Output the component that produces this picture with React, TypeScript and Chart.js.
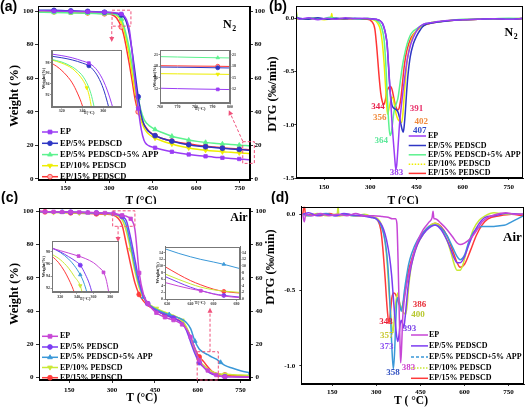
import React, { useEffect, useRef } from "react";
import { Chart, registerables } from "chart.js";
Chart.register(...registerables);

const SERIF = '"Liberation Serif", "Times New Roman", serif';
const SANS = '"Liberation Sans", Arial, sans-serif';

const seriesNames = ["EP", "EP/5% PEDSCD", "EP/5% PEDSCD+5% APP", "EP/10% PEDSCD", "EP/15% PEDSCD"];
const tempTicks = [150, 300, 450, 600, 750];

// ---------- (a) TGA, N2 ----------
const tgaN2Temp = [55, 110, 168, 226, 284, 310, 325, 342, 350, 360, 370, 380, 390, 400, 410, 420, 430, 440, 458, 480, 516, 545, 574, 603, 632, 661, 690, 719, 748, 770, 785];
const tgaN2EP = [100.2, 100.0, 99.8, 99.6, 99.3, 99.1, 98.9, 98.3, 97.4, 94.8, 88.5, 74, 57, 42, 30, 23, 20.5, 19.5, 18.6, 17.6, 16.2, 15.3, 14.6, 14.0, 13.5, 13.0, 12.6, 12.2, 11.9, 11.6, 11.4];
const tgaN2P5 = [100.5, 100.4, 100.1, 99.8, 99.3, 99.0, 98.6, 97.6, 96.6, 93.2, 86, 75, 62, 49, 38.5, 32.5, 29.5, 27.8, 25.8, 24.3, 22.5, 21.3, 20.4, 19.7, 19.2, 18.7, 18.3, 17.9, 17.6, 17.3, 17.1];
const tgaN2APP = [99.3, 99.1, 98.9, 98.7, 98.4, 98.3, 97.7, 95.3, 91.5, 85, 77, 67, 57, 48, 40.5, 35.5, 33, 31.5, 29.5, 27.8, 25.5, 24.2, 23.2, 22.4, 21.8, 21.3, 20.9, 20.5, 20.2, 19.9, 19.7];
const tgaN2P10 = [99.6, 99.4, 99.2, 99.0, 98.7, 98.4, 97.5, 94, 89.5, 82, 73, 62, 51, 42, 35, 30.5, 27.8, 26.2, 24.3, 22.8, 20.8, 19.5, 18.5, 17.7, 17.1, 16.6, 16.2, 15.9, 15.6, 15.3, 15.2];
const tgaN2P15 = [100.0, 99.6, 99.3, 98.9, 98.4, 97.8, 96.0, 90.5, 86, 77.5, 68, 57.5, 47, 40, 35.5, 32.5, 30, 28, 25.8, 24.3, 22.6, 21.6, 20.8, 20.1, 19.5, 19.0, 18.5, 18.1, 17.8, 17.5, 17.3];
const tgaN2Marks = [110, 168, 226, 284, 342, 400, 458, 516, 574, 632, 690, 748];
const tgaN2Ticks = [0, 20, 40, 60, 80, 100];

// inset (a) left: 310-377 C
const inN2LowEPT = [310, 320, 330, 340, 346, 350, 355, 360, 364, 368, 372];
const inN2LowEPV = [99.6, 99.3, 98.9, 98.3, 97.9, 97.4, 96.3, 94.6, 92.7, 90.3, 87.5];
const inN2LowP5T = [310, 320, 330, 340, 346, 350, 355, 360, 364, 368];
const inN2LowP5V = [99.2, 98.9, 98.5, 97.9, 97.4, 96.7, 95.3, 93.1, 90.5, 87.5];
const inN2LowAPPT = [310, 320, 330, 335, 340, 345, 348, 351, 354];
const inN2LowAPPV = [98.6, 98.1, 97.2, 96.5, 95.5, 93.8, 92.2, 89.8, 87];
const inN2LowP10T = [310, 320, 330, 335, 340, 344, 346, 348, 350];
const inN2LowP10V = [98.5, 97.9, 96.9, 96.0, 94.8, 93.3, 92.1, 90.2, 87.5];
const inN2LowP15T = [310, 315, 320, 325, 330, 335, 340, 343];
const inN2LowP15V = [97.9, 97.3, 96.5, 95.5, 94.2, 92.3, 89.8, 87.5];

// inset (a) right: 760-800 C
const inN2HighT = [760, 770, 780, 793, 800];
const inN2HighEP = [12.2, 12.1, 12.0, 11.9, 11.85];
const inN2HighP5 = [17.8, 17.75, 17.7, 17.6, 17.55];
const inN2HighAPP = [20.55, 20.45, 20.35, 20.25, 20.2];
const inN2HighP10 = [16.05, 16.0, 15.95, 15.9, 15.85];
const inN2HighP15 = [18.15, 18.1, 18.05, 18.0, 17.95];

// ---------- (b) DTG, N2 ----------
const dtgN2EPT = [57, 70, 100, 130, 160, 190, 220, 250, 280, 300, 320, 330, 340, 345, 350, 355, 360, 365, 370, 375, 380, 383, 386, 390, 395, 400, 405, 410, 415, 420, 430, 440, 450, 460, 470, 480, 500, 520, 550, 600, 650, 700, 750, 800];
const dtgN2EPV = [0.02, -0.01, 0.005, -0.015, 0.0, -0.01, 0.005, -0.005, 0.0, -0.005, -0.01, -0.02, -0.05, -0.09, -0.15, -0.25, -0.46, -0.7, -0.95, -1.15, -1.33, -1.42, -1.38, -1.22, -1.0, -0.85, -0.72, -0.6, -0.49, -0.39, -0.26, -0.18, -0.12, -0.08, -0.06, -0.05, -0.04, -0.03, -0.02, -0.015, -0.01, -0.005, -0.01, 0.0];
const dtgN2P5T = [57, 70, 100, 130, 160, 190, 220, 250, 280, 300, 320, 330, 340, 345, 350, 355, 360, 365, 370, 375, 380, 385, 390, 395, 400, 404, 407, 410, 414, 418, 422, 430, 440, 450, 460, 470, 480, 500, 520, 550, 600, 650, 700, 750, 800];
const dtgN2P5V = [0.01, 0.0, -0.01, 0.005, -0.01, 0.0, -0.005, 0.0, -0.005, -0.005, -0.01, -0.02, -0.05, -0.09, -0.15, -0.25, -0.48, -0.7, -0.81, -0.84, -0.85, -0.86, -0.88, -0.93, -1.0, -1.05, -1.07, -1.02, -0.88, -0.7, -0.55, -0.36, -0.24, -0.17, -0.12, -0.08, -0.06, -0.045, -0.035, -0.025, -0.015, -0.01, -0.005, -0.01, 0.0];
const dtgN2APPT = [57, 60, 63, 80, 110, 140, 170, 200, 230, 260, 290, 310, 325, 335, 340, 345, 350, 355, 360, 364, 368, 372, 376, 380, 385, 390, 395, 400, 405, 410, 420, 430, 440, 450, 460, 480, 500, 530, 560, 600, 650, 700, 750, 800];
const dtgN2APPV = [0.0, 0.05, 0.0, -0.01, 0.005, -0.01, 0.01, -0.005, 0.0, -0.01, 0.0, -0.01, -0.03, -0.07, -0.12, -0.2, -0.4, -0.7, -0.98, -1.1, -1.08, -1.0, -0.9, -0.84, -0.8, -0.75, -0.65, -0.54, -0.44, -0.36, -0.24, -0.16, -0.12, -0.1, -0.08, -0.05, -0.04, -0.03, -0.02, -0.01, -0.01, -0.005, 0.0, -0.005];
const dtgN2P10T = [57, 60, 63, 90, 120, 150, 172, 175, 178, 200, 230, 260, 290, 310, 320, 330, 335, 340, 345, 350, 356, 360, 365, 370, 375, 380, 385, 390, 396, 402, 406, 410, 415, 420, 430, 440, 450, 460, 480, 500, 530, 560, 600, 650, 700, 750, 800];
const dtgN2P10V = [0.0, 0.07, -0.01, -0.01, 0.0, -0.015, 0.0, 0.045, -0.01, -0.005, 0.0, -0.01, -0.005, -0.015, -0.03, -0.08, -0.14, -0.25, -0.42, -0.65, -0.9, -0.86, -0.79, -0.74, -0.76, -0.84, -0.91, -0.95, -0.97, -0.98, -0.9, -0.74, -0.55, -0.4, -0.24, -0.16, -0.12, -0.09, -0.06, -0.04, -0.03, -0.02, -0.015, -0.01, -0.005, -0.005, 0.0];
const dtgN2P15T = [57, 80, 110, 140, 170, 200, 230, 260, 290, 305, 315, 322, 328, 334, 339, 344, 349, 354, 360, 366, 371, 376, 381, 386, 391, 395, 400, 405, 410, 415, 420, 430, 440, 450, 460, 480, 500, 530, 560, 600, 650, 700, 750, 800];
const dtgN2P15V = [0.0, -0.01, 0.0, -0.01, -0.005, -0.01, -0.005, -0.01, -0.01, -0.03, -0.1, -0.3, -0.52, -0.7, -0.78, -0.81, -0.77, -0.69, -0.65, -0.64, -0.67, -0.74, -0.81, -0.85, -0.86, -0.83, -0.74, -0.6, -0.46, -0.36, -0.29, -0.2, -0.15, -0.12, -0.09, -0.06, -0.045, -0.03, -0.02, -0.015, -0.01, -0.005, -0.01, -0.005];
const dtgN2Ticks = [0, -0.5, -1.0, -1.5];
const dtgN2PeakText = ["344", "356", "364", "383", "391", "402", "407"];
const dtgN2PeakT = [325, 331, 336, 385, 450, 466, 461];
const dtgN2PeakV = [-0.83, -0.93, -1.145, -1.452, -0.853, -0.973, -1.06];
const dtgN2PeakColor = ["#e8204a", "#f08a3c", "#5de89a", "#9b3cf0", "#e8306a", "#f08a3c", "#2f48c8"];

// ---------- (c) TGA, Air ----------
const tgaAirTemp = [45, 65, 95, 125, 155, 185, 215, 245, 275, 305, 320, 335, 350, 365, 380, 395, 410, 425, 440, 455, 470, 485, 500, 515, 530, 545, 560, 575, 590, 605, 620, 635, 650, 665, 680, 695, 720, 750, 785];
const tgaAirEP = [100, 99.8, 99.7, 99.6, 99.5, 99.4, 99.3, 99.2, 99.0, 98.7, 98.3, 97.6, 97.0, 95.5, 89, 63, 50, 44.5, 41.5, 39, 37.5, 36.3, 35.4, 34.6, 33.6, 32, 29.3, 24.5, 17.5, 10.5, 6.5, 4.3, 2.8, 1.6, 0.9, 0.6, 0.5, 0.4, 0.3];
const tgaAirP5 = [100, 99.8, 99.7, 99.6, 99.5, 99.4, 99.3, 99.1, 98.9, 98.5, 97.9, 96.9, 94.3, 84, 71, 58, 49, 44.5, 42, 40.3, 39, 37.8, 36.8, 35.8, 34.6, 32.8, 28.5, 21.5, 14.5, 9, 6.5, 3.8, 2.2, 1.3, 0.8, 0.6, 0.5, 0.4, 0.3];
const tgaAirAPP = [99.8, 99.7, 99.6, 99.5, 99.4, 99.3, 99.2, 99.1, 98.9, 98.6, 97.9, 96.3, 91.5, 80, 67, 56, 48.5, 44.5, 42.5, 41, 39.8, 38.8, 37.9, 37.0, 36.1, 35.0, 33.2, 29.5, 22, 17.2, 15.2, 13.8, 12.4, 11.1, 9.2, 7.4, 5.8, 4.2, 2.8];
const tgaAirP10 = [99.5, 99.4, 99.3, 99.2, 99.1, 99.0, 98.9, 98.8, 98.6, 98.2, 97.2, 95.0, 88, 77, 64, 54, 48, 44.8, 43, 41.6, 40.4, 39.4, 38.5, 37.5, 36.3, 34.5, 30.5, 24, 16, 10.3, 7.6, 5.3, 3.6, 2.7, 2.2, 2.0, 1.8, 1.6, 1.5];
const tgaAirP15 = [100, 99.7, 99.5, 99.3, 99.1, 98.9, 98.7, 98.5, 98.3, 97.6, 96.0, 91.8, 80, 68, 57, 50, 46, 43.5, 41.8, 40.3, 39, 37.9, 36.9, 35.9, 34.8, 33.2, 30, 24.5, 17.5, 12.5, 9.8, 6.5, 3.8, 2.5, 1.9, 1.6, 1.3, 1.1, 1.0];
const tgaAirMarksEP = [65, 95, 125, 155, 185, 215, 245, 275, 305, 335, 365, 395, 425, 455, 485, 515, 545, 575, 605, 635, 665, 695];
const tgaAirMarksP5 = [155, 245, 335, 425, 515, 605, 695];
const tgaAirMarksAPP = [125, 215, 305, 410, 500, 590, 680, 785];
const tgaAirMarksP10 = [95, 185, 275, 365, 455, 545, 605, 695];
const tgaAirMarksP15 = [65, 155, 245, 395, 485, 605, 695];

// inset (c) left: 310-390 C
const inAirLowEPT = [310, 320, 330, 342, 350, 360, 366, 372, 375, 378, 381];
const inAirLowEPV = [98.6, 98.2, 97.8, 97.3, 96.9, 96.2, 95.5, 94.6, 93.5, 91.5, 89];
const inAirLowP5T = [310, 320, 330, 338, 344, 350, 355, 358, 361];
const inAirLowP5V = [98.6, 98.0, 97.2, 96.5, 95.8, 94.3, 92.7, 91.3, 89.5];
const inAirLowAPPT = [310, 320, 330, 337, 344, 348, 352, 355];
const inAirLowAPPV = [98.7, 97.9, 96.8, 95.7, 94.2, 93.0, 91.3, 89.8];
const inAirLowP10T = [310, 320, 330, 337, 344, 346, 349];
const inAirLowP10V = [97.6, 96.7, 95.3, 93.9, 92.4, 91.4, 89.5];
const inAirLowP15T = [310, 318, 325, 330, 334, 337, 340];
const inAirLowP15V = [97.3, 96.2, 94.8, 93.5, 92.3, 91.2, 89.8];

// inset (c) right: 618-683 C
const inAirHighT = [618, 630, 640, 649, 660, 669, 683];
const inAirHighEP = [5.0, 3.9, 3.1, 2.5, 1.5, 0.9, 0.4];
const inAirHighP5 = [6.8, 5.0, 3.6, 2.6, 1.6, 1.1, 0.6];
const inAirHighAPP = [15.2, 13.8, 12.8, 12.0, 11.2, 10.5, 9.2];
const inAirHighP10 = [7.6, 5.9, 4.6, 3.6, 2.8, 2.4, 2.0];
const inAirHighP15 = [9.8, 7.4, 5.6, 4.3, 3.0, 2.3, 1.8];

// ---------- (d) DTG, Air ----------
const dtgAirEPT = [50, 55, 60, 80, 110, 140, 170, 200, 230, 260, 290, 320, 340, 355, 365, 370, 374, 378, 381, 383, 386, 390, 395, 400, 410, 420, 430, 440, 460, 480, 490, 493, 496, 500, 520, 540, 560, 575, 585, 600, 620, 640, 660, 680, 700, 740, 770, 800];
const dtgAirEPV = [0.0, -0.05, 0.0, -0.01, 0.005, -0.01, 0.0, -0.01, 0.005, -0.01, -0.01, -0.015, -0.02, -0.03, -0.03, -0.06, -0.3, -0.65, -0.88, -0.98, -0.88, -0.68, -0.57, -0.5, -0.4, -0.31, -0.24, -0.18, -0.1, -0.05, -0.02, 0.02, -0.03, -0.03, -0.06, -0.1, -0.15, -0.19, -0.2, -0.19, -0.16, -0.11, -0.05, -0.02, -0.005, 0.01, 0.0, 0.0];
const dtgAirP5T = [50, 70, 100, 130, 160, 190, 220, 250, 280, 300, 315, 325, 335, 345, 352, 358, 364, 369, 373, 377, 381, 385, 389, 393, 397, 402, 408, 415, 425, 440, 460, 480, 500, 520, 540, 555, 565, 575, 585, 600, 615, 630, 650, 670, 700, 740, 800];
const dtgAirP5V = [0.0, 0.01, -0.01, 0.0, -0.01, 0.005, -0.005, -0.01, -0.02, -0.03, -0.06, -0.1, -0.17, -0.28, -0.4, -0.55, -0.7, -0.8, -0.84, -0.8, -0.73, -0.7, -0.72, -0.75, -0.7, -0.6, -0.48, -0.38, -0.29, -0.2, -0.13, -0.09, -0.07, -0.1, -0.17, -0.24, -0.29, -0.32, -0.32, -0.28, -0.2, -0.13, -0.06, -0.02, -0.01, 0.005, 0.0];
const dtgAirAPPT = [50, 70, 100, 130, 160, 190, 220, 250, 280, 300, 315, 325, 335, 342, 348, 353, 358, 362, 366, 370, 375, 380, 385, 390, 396, 402, 410, 420, 440, 460, 480, 500, 520, 540, 560, 575, 585, 600, 615, 630, 645, 660, 680, 700, 720, 740, 760, 780, 800];
const dtgAirAPPV = [0.0, -0.01, 0.0, 0.005, -0.01, 0.0, -0.01, -0.005, -0.02, -0.03, -0.07, -0.13, -0.25, -0.42, -0.65, -0.88, -1.02, -0.92, -0.72, -0.57, -0.55, -0.6, -0.64, -0.6, -0.5, -0.42, -0.33, -0.26, -0.17, -0.12, -0.08, -0.07, -0.09, -0.14, -0.22, -0.28, -0.3, -0.27, -0.18, -0.12, -0.09, -0.08, -0.08, -0.08, -0.075, -0.07, -0.05, -0.03, -0.01];
const dtgAirP10T = [50, 70, 100, 130, 160, 167, 170, 173, 200, 230, 260, 290, 305, 318, 328, 336, 343, 350, 357, 362, 368, 373, 378, 385, 393, 400, 405, 410, 420, 440, 460, 480, 500, 520, 540, 555, 565, 575, 585, 595, 610, 630, 650, 670, 700, 740, 800];
const dtgAirP10V = [0.0, -0.01, 0.005, -0.01, 0.0, 0.0, 0.05, -0.01, -0.005, -0.01, 0.0, -0.02, -0.03, -0.07, -0.15, -0.3, -0.5, -0.68, -0.78, -0.66, -0.56, -0.52, -0.57, -0.62, -0.65, -0.66, -0.6, -0.48, -0.33, -0.2, -0.13, -0.08, -0.06, -0.09, -0.17, -0.26, -0.33, -0.37, -0.37, -0.33, -0.22, -0.1, -0.04, -0.01, 0.01, 0.0, 0.0];
const dtgAirP15T = [50, 55, 60, 80, 110, 140, 170, 200, 230, 260, 290, 305, 315, 322, 330, 337, 343, 348, 353, 360, 366, 372, 379, 386, 392, 400, 410, 420, 440, 460, 480, 500, 520, 540, 560, 575, 585, 600, 620, 640, 660, 680, 720, 760, 800];
const dtgAirP15V = [0.0, 0.06, -0.01, 0.0, -0.01, 0.005, -0.01, 0.0, -0.01, -0.01, -0.02, -0.04, -0.1, -0.22, -0.42, -0.62, -0.72, -0.65, -0.55, -0.52, -0.53, -0.56, -0.6, -0.62, -0.58, -0.48, -0.37, -0.3, -0.19, -0.12, -0.08, -0.06, -0.08, -0.14, -0.24, -0.32, -0.35, -0.33, -0.24, -0.14, -0.07, -0.03, -0.01, 0.0, -0.01];
const dtgAirTicks = [0, -0.5, -1.0];
const dtgAirPeakText = ["343", "357", "373", "358", "383", "393", "400", "386"];
const dtgAirPeakT = [332.7, 336, 336, 356.5, 409.9, 413.3, 441.5, 447.3];
const dtgAirPeakV = [-0.706, -0.798, -0.871, -1.042, -1.009, -0.752, -0.664, -0.594];
const dtgAirPeakColor = ["#e8203a", "#c8c830", "#8a4cf0", "#3050c0", "#cc40cc", "#7a40e8", "#b8c830", "#e8303a"];

// zoom boxes [x1, x2, y1, y2] and arrows [x1, y1, x2, y2] in data units
const boxN2Low = [310, 375, 91, 100.5];
const arrowN2Low = [309, 91, 309, 81.5];
const boxN2High = [760, 800, 9.3, 22.2];
const arrowN2High = [760, 22.5, 712, 41];
const boxAirLow = [302, 380, 91, 100.3];
const arrowAirLow = [321, 91, 321, 81.5];
const boxAirHigh = [598, 672, -1.4, 15.6];
const arrowAirHigh = [643, 15.6, 643, 42];

const CN = { ep: "#9b3cf5", p5: "#2e36c4", app: "#5cf28e", p10: "#eeee00", p15: "#ff3434" };
const CA = { ep: "#c746d6", p5: "#7b3cf2", app: "#3a98d8", p10: "#c9e836", p15: "#ff3a3a" };
const PINK = "#f0507a";

type Spec = {
  left: number; top: number; w: number; h: number;
  box: { l: number; t: number; r: number; b: number };
  xMin: number; xMax: number; xTicks: number[];
  yMin: number; yMax: number; yTicks: number[];
  yFmt: (v: number) => string;
  right?: boolean;
  tickSize: number; tickLen: number; xPad: number; yPad: number;
  axisColor: string; tickColor: string;
  white?: boolean;
  datasets: any[];
  draw?: (ctx: CanvasRenderingContext2D, ch: any) => void;
};

function ds(T: number[], V: number[], color: string, o: any = {}) {
  const marks: number[] = o.marks || [];
  return {
    type: "line",
    xAxisID: "x",
    yAxisID: "y",
    data: T.map((t, i) => ({ x: t, y: V[i] })),
    borderColor: color,
    backgroundColor: o.fill || color,
    borderWidth: o.bw ?? 1.5,
    borderDash: o.dash || [],
    pointStyle: o.style || "circle",
    pointRotation: o.rot || 0,
    pointRadius: (c: any) => (c.raw && marks.indexOf(c.raw.x) >= 0 ? o.r ?? 2.4 : 0),
    pointHoverRadius: 0,
    pointBorderColor: color,
    pointBorderWidth: 0.8,
    cubicInterpolationMode: "monotone",
    fill: false,
  };
}

function txt(ctx: CanvasRenderingContext2D, s: string, x: number, y: number, font: string, color = "#000", align: CanvasTextAlign = "center", rot = 0) {
  ctx.save();
  ctx.font = font;
  ctx.fillStyle = color;
  ctx.textAlign = align;
  ctx.textBaseline = "middle";
  ctx.translate(x, y);
  if (rot) ctx.rotate(rot);
  ctx.fillText(s, 0, 0);
  ctx.restore();
}

function subN2(ctx: CanvasRenderingContext2D, x: number, y: number, size: number) {
  ctx.save();
  ctx.font = `bold ${size}px ${SERIF}`;
  ctx.fillStyle = "#000";
  ctx.textAlign = "left";
  ctx.textBaseline = "middle";
  ctx.fillText("N", x, y);
  const w = ctx.measureText("N").width;
  ctx.font = `bold ${size * 0.65}px ${SERIF}`;
  ctx.fillText("2", x + w + 0.5, y + size * 0.35);
  ctx.restore();
}

function drawMarker(ctx: CanvasRenderingContext2D, kind: string, x: number, y: number, r: number, stroke: string, fill: string) {
  ctx.save();
  ctx.fillStyle = fill;
  ctx.strokeStyle = stroke;
  ctx.lineWidth = 0.8;
  ctx.beginPath();
  if (kind === "rect") ctx.rect(x - r * 0.8, y - r * 0.8, r * 1.6, r * 1.6);
  else if (kind === "circle") ctx.arc(x, y, r, 0, Math.PI * 2);
  else if (kind === "triangle") { ctx.moveTo(x, y - r * 1.1); ctx.lineTo(x + r, y + r * 0.6); ctx.lineTo(x - r, y + r * 0.6); ctx.closePath(); }
  else if (kind === "tridown") { ctx.moveTo(x, y + r * 1.1); ctx.lineTo(x + r, y - r * 0.6); ctx.lineTo(x - r, y - r * 0.6); ctx.closePath(); }
  ctx.fill();
  ctx.stroke();
  ctx.restore();
}

type LegItem = { color: string; marker?: string; fill?: string; dash?: number[] };
function drawLegend(ctx: CanvasRenderingContext2D, items: LegItem[], x0: number, x1: number, tx: number, ys: number[], size: number) {
  items.forEach((e, i) => {
    const y = ys[i];
    ctx.save();
    ctx.strokeStyle = e.color;
    ctx.lineWidth = 1.5;
    ctx.setLineDash(e.dash || []);
    ctx.beginPath();
    ctx.moveTo(x0, y);
    ctx.lineTo(x1, y);
    ctx.stroke();
    ctx.restore();
    if (e.marker) drawMarker(ctx, e.marker, (x0 + x1) / 2, y, 2.4, e.color, e.fill || e.color);
    txt(ctx, seriesNames[i], tx, y, `bold ${size}px ${SERIF}`, "#000", "left");
  });
}

function dashRect(ctx: CanvasRenderingContext2D, x1: number, y1: number, x2: number, y2: number, color: string) {
  ctx.save();
  ctx.strokeStyle = color;
  ctx.lineWidth = 1;
  ctx.setLineDash([3, 2]);
  ctx.strokeRect(Math.min(x1, x2), Math.min(y1, y2), Math.abs(x2 - x1), Math.abs(y2 - y1));
  ctx.restore();
}

function arrow(ctx: CanvasRenderingContext2D, x1: number, y1: number, x2: number, y2: number, color: string) {
  const a = Math.atan2(y2 - y1, x2 - x1);
  const hl = 5, hw = 2.5;
  const bx = x2 - hl * Math.cos(a), by = y2 - hl * Math.sin(a);
  ctx.save();
  ctx.strokeStyle = color;
  ctx.fillStyle = color;
  ctx.lineWidth = 1;
  ctx.setLineDash([3, 2]);
  ctx.beginPath();
  ctx.moveTo(x1, y1);
  ctx.lineTo(bx, by);
  ctx.stroke();
  ctx.setLineDash([]);
  ctx.beginPath();
  ctx.moveTo(x2, y2);
  ctx.lineTo(bx + hw * Math.sin(a), by - hw * Math.cos(a));
  ctx.lineTo(bx - hw * Math.sin(a), by + hw * Math.cos(a));
  ctx.closePath();
  ctx.fill();
  ctx.restore();
}

function mappers(ch: any) {
  const xs = ch.scales.x, ys = ch.scales.y;
  return { X: (v: number) => xs.getPixelForValue(v), Y: (v: number) => ys.getPixelForValue(v) };
}

function zoomMark(ctx: CanvasRenderingContext2D, ch: any, box: number[], arr: number[]) {
  const { X, Y } = mappers(ch);
  dashRect(ctx, X(box[0]), Y(box[3]), X(box[1]), Y(box[2]), PINK);
  arrow(ctx, X(arr[0]), Y(arr[1]), X(arr[2]), Y(arr[3]), PINK);
}

function makeChart(canvas: HTMLCanvasElement, s: Spec) {
  const font = { family: SERIF, size: s.tickSize, weight: "bold" as const };
  const fix = (sc: any) => { sc.paddingLeft = 0; sc.paddingRight = 0; sc.paddingTop = 0; sc.paddingBottom = 0; };
  const axis = (ticks: number[], fmt: (v: number) => string, pad: number, min: number, max: number, pos: string, fit: (sc: any) => void) => ({
    type: "linear",
    position: pos,
    min,
    max,
    afterBuildTicks: (sc: any) => { sc.ticks = ticks.map((v) => ({ value: v })); },
    afterFit: (sc: any) => { fit(sc); fix(sc); },
    grid: { display: true, drawOnChartArea: false, drawTicks: s.tickLen > 0, tickLength: s.tickLen, color: s.axisColor, lineWidth: 0.8 },
    border: { display: true, color: s.axisColor, width: 1 },
    ticks: { font, color: s.tickColor, padding: pad, autoSkip: false, maxRotation: 0, minRotation: 0, callback: (v: any) => fmt(Number(v)) },
  });
  const scales: any = {
    x: axis(s.xTicks, (v) => String(v), s.xPad, s.xMin, s.xMax, "bottom", (sc) => { sc.height = s.h - s.box.b; }),
    y: axis(s.yTicks, s.yFmt, s.yPad, s.yMin, s.yMax, "left", (sc) => { sc.width = s.box.l; }),
  };
  if (s.right) scales.y2 = axis(s.yTicks, s.yFmt, s.yPad, s.yMin, s.yMax, "right", (sc) => { sc.width = s.w - s.box.r; });
  return new Chart(canvas, {
    type: "line",
    data: { datasets: s.datasets },
    options: {
      responsive: false,
      animation: false,
      devicePixelRatio: 1,
      events: [],
      layout: { padding: { left: 0, top: s.box.t, right: s.right ? 0 : s.w - s.box.r, bottom: 0 } },
      plugins: { legend: { display: false }, tooltip: { enabled: false } },
      scales,
    } as any,
    plugins: [
      {
        id: "deco",
        beforeDraw(ch: any) {
          if (!s.white) return;
          const a = ch.chartArea;
          ch.ctx.save();
          ch.ctx.fillStyle = "#fff";
          ch.ctx.fillRect(a.left, a.top, a.right - a.left, a.bottom - a.top);
          ch.ctx.restore();
        },
        afterDraw(ch: any) {
          const ctx = ch.ctx as CanvasRenderingContext2D;
          const a = ch.chartArea;
          ctx.save();
          ctx.strokeStyle = s.axisColor;
          ctx.lineWidth = 1;
          ctx.strokeRect(Math.round(a.left) + 0.5, Math.round(a.top) + 0.5, Math.round(a.right - a.left) - 1, Math.round(a.bottom - a.top) - 1);
          ctx.restore();
          if (s.draw) s.draw(ctx, ch);
        },
      },
    ],
  } as any);
}

const int = (v: number) => String(v);
const dec1 = (v: number) => v.toFixed(1);

function buildSpecs(): Spec[] {
  const legN: LegItem[] = [
    { color: CN.ep, marker: "rect" },
    { color: CN.p5, marker: "circle" },
    { color: CN.app, marker: "triangle" },
    { color: CN.p10, marker: "tridown" },
    { color: CN.p15, marker: "circle", fill: "#ffb0b0" },
  ];
  const legA: LegItem[] = [
    { color: CA.ep, marker: "rect" },
    { color: CA.p5, marker: "circle" },
    { color: CA.app, marker: "triangle" },
    { color: CA.p10, marker: "tridown" },
    { color: CA.p15, marker: "circle" },
  ];
  const mainBase = { tickSize: 7, axisColor: "#000", tickColor: "#000" };
  const insetBase = { tickSize: 4, tickLen: 1.5, xPad: 0.5, yPad: 0.5, axisColor: "#777", tickColor: "#333", white: true };
  const insetTitles = (yx: number, yy: number, tx: number, ty: number) => (ctx: CanvasRenderingContext2D) => {
    txt(ctx, "Weight(%)", yx, yy, `bold 4.5px ${SERIF}`, "#222", "center", -Math.PI / 2);
    txt(ctx, "T(°C)", tx, ty, `bold 4.5px ${SERIF}`, "#222");
  };

  const A: Spec = {
    ...mainBase, left: 0, top: 0, w: 270, h: 204,
    box: { l: 38, t: 6, r: 250, b: 180 },
    xMin: 55, xMax: 785, xTicks: tempTicks,
    yMin: -0.6, yMax: 103, yTicks: tgaN2Ticks, yFmt: int, right: true,
    tickLen: 3, xPad: 1, yPad: 1.5,
    datasets: [
      ds(tgaN2Temp, tgaN2EP, CN.ep, { marks: tgaN2Marks, style: "rect" }),
      ds(tgaN2Temp, tgaN2P5, CN.p5, { marks: tgaN2Marks, style: "circle" }),
      ds(tgaN2Temp, tgaN2APP, CN.app, { marks: tgaN2Marks, style: "triangle", r: 2.6 }),
      ds(tgaN2Temp, tgaN2P10, CN.p10, { marks: tgaN2Marks, style: "triangle", rot: 180, r: 2.6 }),
      ds(tgaN2Temp, tgaN2P15, CN.p15, { marks: tgaN2Marks, style: "circle", fill: "#ffb0b0" }),
    ],
    draw: (ctx, ch) => {
      zoomMark(ctx, ch, boxN2Low, arrowN2Low);
      zoomMark(ctx, ch, boxN2High, arrowN2High);
      drawLegend(ctx, legN, 42, 58, 60, [132, 143.3, 154.6, 165.7, 176.7], 8.5);
      txt(ctx, "(a)", 0, 7, `bold 14px ${SANS}`, "#000", "left");
      txt(ctx, "(c)", 1, 198, `bold 14px ${SANS}`, "#000", "left");
      txt(ctx, "Weight (%)", 15, 96, `bold 12.5px ${SERIF}`, "#000", "center", -Math.PI / 2);
      txt(ctx, "T (°C)", 141, 201, `bold 11.5px ${SERIF}`);
      subN2(ctx, 223, 25, 12);
    },
  };

  const B: Spec = {
    ...mainBase, left: 263, top: 0, w: 263, h: 204,
    box: { l: 33.3, t: 6, r: 260, b: 178 },
    xMin: 60, xMax: 796, xTicks: tempTicks,
    yMin: -1.5, yMax: 0.115, yTicks: dtgN2Ticks, yFmt: dec1,
    tickLen: 2, xPad: 3, yPad: 0,
    datasets: [
      ds(dtgN2EPT, dtgN2EPV, CN.ep),
      ds(dtgN2P5T, dtgN2P5V, CN.p5),
      ds(dtgN2APPT, dtgN2APPV, CN.app),
      ds(dtgN2P10T, dtgN2P10V, CN.p10),
      ds(dtgN2P15T, dtgN2P15V, CN.p15),
    ],
    draw: (ctx, ch) => {
      const { X, Y } = mappers(ch);
      dtgN2PeakText.forEach((t, i) => txt(ctx, t, X(dtgN2PeakT[i]), Y(dtgN2PeakV[i]), `bold 9px ${SERIF}`, dtgN2PeakColor[i]));
      drawLegend(ctx, [
        { color: CN.ep }, { color: CN.p5 }, { color: CN.app }, { color: CN.p10, dash: [1.5, 1.5] }, { color: CN.p15 },
      ], 145.7, 163, 165, [136, 145.5, 154.8, 164.2, 173.4], 8);
      txt(ctx, "(b)", 6, 7, `bold 14px ${SANS}`, "#000", "left");
      txt(ctx, "(d)", 8, 198, `bold 14px ${SANS}`, "#000", "left");
      txt(ctx, "DTG (‰/min)", 10, 94, `bold 12.5px ${SERIF}`, "#000", "center", -Math.PI / 2);
      txt(ctx, "T (°C)", 140, 201, `bold 11.5px ${SERIF}`);
      subN2(ctx, 241.5, 33, 12);
    },
  };

  const C: Spec = {
    ...mainBase, left: 0, top: 204, w: 270, h: 204,
    box: { l: 39, t: 4, r: 250, b: 176 },
    xMin: 44, xMax: 783, xTicks: tempTicks,
    yMin: -1.4, yMax: 102, yTicks: tgaN2Ticks, yFmt: int, right: true,
    tickLen: 3, xPad: 2.5, yPad: 2.5,
    datasets: [
      ds(tgaAirTemp, tgaAirEP, CA.ep, { marks: tgaAirMarksEP, style: "rect" }),
      ds(tgaAirTemp, tgaAirP5, CA.p5, { marks: tgaAirMarksP5, style: "circle" }),
      ds(tgaAirTemp, tgaAirAPP, CA.app, { marks: tgaAirMarksAPP, style: "triangle", r: 2.6 }),
      ds(tgaAirTemp, tgaAirP10, CA.p10, { marks: tgaAirMarksP10, style: "triangle", rot: 180, r: 2.6 }),
      ds(tgaAirTemp, tgaAirP15, CA.p15, { marks: tgaAirMarksP15, style: "circle" }),
    ],
    draw: (ctx, ch) => {
      zoomMark(ctx, ch, boxAirLow, arrowAirLow);
      zoomMark(ctx, ch, boxAirHigh, arrowAirHigh);
      drawLegend(ctx, legA, 42, 58, 60, [132.3, 143, 153.3, 163.5, 173.7], 8);
      txt(ctx, "Weight (%)", 15, 90, `bold 12.5px ${SERIF}`, "#000", "center", -Math.PI / 2);
      txt(ctx, "T (°C)", 141.7, 194, `bold 11.5px ${SERIF}`);
      txt(ctx, "Air", 239, 14, `bold 12px ${SERIF}`);
    },
  };

  const D: Spec = {
    ...mainBase, left: 263, top: 204, w: 263, h: 204,
    box: { l: 38.3, t: 2.7, r: 261.5, b: 180 },
    xMin: 45, xMax: 804, xTicks: tempTicks,
    yMin: -1.12, yMax: 0.05, yTicks: dtgAirTicks, yFmt: dec1,
    tickLen: 2, xPad: 2, yPad: 4,
    datasets: [
      ds(dtgAirEPT, dtgAirEPV, CA.ep),
      ds(dtgAirP5T, dtgAirP5V, CA.p5),
      ds(dtgAirAPPT, dtgAirAPPV, CA.app),
      ds(dtgAirP10T, dtgAirP10V, CA.p10),
      ds(dtgAirP15T, dtgAirP15V, CA.p15),
    ],
    draw: (ctx, ch) => {
      const { X, Y } = mappers(ch);
      dtgAirPeakText.forEach((t, i) => txt(ctx, t, X(dtgAirPeakT[i]), Y(dtgAirPeakV[i]), `bold 9px ${SERIF}`, dtgAirPeakColor[i]));
      drawLegend(ctx, [
        { color: CA.ep }, { color: CA.p5 }, { color: CA.app, dash: [3, 2] }, { color: CA.p10, dash: [1.5, 1.5] }, { color: CA.p15 },
      ], 148, 165, 166, [131, 141.9, 153, 164, 174.3], 8);
      txt(ctx, "DTG (‰/min)", 8, 63, `bold 12.5px ${SERIF}`, "#000", "center", -Math.PI / 2);
      txt(ctx, "T ( °C)", 148, 196.7, `bold 11.5px ${SERIF}`);
      txt(ctx, "Air", 249.5, 33.3, `bold 13px ${SERIF}`);
    },
  };

  const IAL: Spec = {
    ...insetBase, left: 36, top: 44, w: 90, h: 74,
    box: { l: 15.5, t: 6.3, r: 85, b: 63 },
    xMin: 310, xMax: 377, xTicks: [320, 340, 360],
    yMin: 89.7, yMax: 100.3, yTicks: [92, 94, 96, 98], yFmt: int,
    datasets: [
      ds(inN2LowEPT, inN2LowEPV, CN.ep, { marks: [346], style: "rect", bw: 1, r: 2 }),
      ds(inN2LowP5T, inN2LowP5V, CN.p5, { marks: [346], style: "circle", bw: 1, r: 2 }),
      ds(inN2LowAPPT, inN2LowAPPV, CN.app, { bw: 1 }),
      ds(inN2LowP10T, inN2LowP10V, CN.p10, { marks: [344], style: "triangle", rot: 180, bw: 1, r: 2 }),
      ds(inN2LowP15T, inN2LowP15V, CN.p15, { bw: 1 }),
    ],
    draw: insetTitles(8, 34.5, 53, 68.5),
  };

  const IAH: Spec = {
    ...insetBase, left: 146, top: 44, w: 104, h: 70,
    box: { l: 14, t: 6, r: 84, b: 59 },
    xMin: 760, xMax: 800, xTicks: [760, 770, 780, 790, 800],
    yMin: 8.3, yMax: 22.3, yTicks: [12, 15, 18, 21], yFmt: int, right: true,
    datasets: [
      ds(inN2HighT, inN2HighEP, CN.ep, { marks: [793], style: "rect", bw: 1, r: 2 }),
      ds(inN2HighT, inN2HighP5, CN.p5, { marks: [793], style: "circle", bw: 1, r: 2 }),
      ds(inN2HighT, inN2HighAPP, CN.app, { marks: [793], style: "triangle", bw: 1, r: 2 }),
      ds(inN2HighT, inN2HighP10, CN.p10, { marks: [793], style: "triangle", rot: 180, bw: 1, r: 2 }),
      ds(inN2HighT, inN2HighP15, CN.p15, { marks: [793], style: "circle", fill: "#ffb0b0", bw: 1, r: 2 }),
    ],
    draw: insetTitles(9, 32.5, 54, 65),
  };

  const ICL: Spec = {
    ...insetBase, left: 38, top: 236, w: 86, h: 70,
    box: { l: 14, t: 5, r: 80.5, b: 56.3 },
    xMin: 310, xMax: 390, xTicks: [320, 340, 360, 380],
    yMin: 91.3, yMax: 99.8, yTicks: [92, 94, 96, 98], yFmt: int,
    datasets: [
      ds(inAirLowEPT, inAirLowEPV, CA.ep, { marks: [342, 372], style: "rect", bw: 1, r: 2 }),
      ds(inAirLowP5T, inAirLowP5V, CA.p5, { marks: [344], style: "circle", bw: 1, r: 2 }),
      ds(inAirLowAPPT, inAirLowAPPV, CA.app, { marks: [344], style: "triangle", bw: 1, r: 2 }),
      ds(inAirLowP10T, inAirLowP10V, CA.p10, { marks: [344], style: "triangle", rot: 180, bw: 1, r: 2 }),
      ds(inAirLowP15T, inAirLowP15V, CA.p15, { bw: 1 }),
    ],
    draw: insetTitles(6, 30.6, 47, 63.3),
  };

  const ICH: Spec = {
    ...insetBase, left: 150, top: 240, w: 104, h: 68,
    box: { l: 15, t: 6.5, r: 90, b: 59.7 },
    xMin: 618, xMax: 683, xTicks: [620, 640, 660, 680],
    yMin: -0.2, yMax: 15.9, yTicks: [0, 2, 4, 6, 8, 10, 12, 14], yFmt: int, right: true,
    datasets: [
      ds(inAirHighT, inAirHighEP, CA.ep, { marks: [649], style: "rect", bw: 1, r: 2 }),
      ds(inAirHighT, inAirHighP5, CA.p5, { marks: [669], style: "circle", bw: 1, r: 2 }),
      ds(inAirHighT, inAirHighAPP, CA.app, { marks: [669], style: "triangle", bw: 1, r: 2 }),
      ds(inAirHighT, inAirHighP10, CA.p10, { bw: 1 }),
      ds(inAirHighT, inAirHighP15, CA.p15, { marks: [669], style: "circle", bw: 1, r: 2 }),
    ],
    draw: insetTitles(8, 33, 50, 62.5),
  };

  return [A, B, C, D, IAL, IAH, ICL, ICH];
}

const LAYOUT = buildSpecs().map((s) => ({ left: s.left, top: s.top, w: s.w, h: s.h }));

export default function App() {
  const canvases = useRef<(HTMLCanvasElement | null)[]>([]);
  useEffect(() => {
    const specs = buildSpecs();
    const charts = specs.map((s, i) => makeChart(canvases.current[i] as HTMLCanvasElement, s));
    return () => charts.forEach((c) => c.destroy());
  }, []);
  return (
    <div style={{ position: "absolute", left: 0, top: 0, width: 526, height: 408, background: "#fff", overflow: "hidden" }}>
      {LAYOUT.map((s, i) => (
        <canvas
          key={i}
          ref={(el) => { canvases.current[i] = el; }}
          width={s.w}
          height={s.h}
          style={{ position: "absolute", left: s.left, top: s.top, width: s.w, height: s.h }}
        />
      ))}
    </div>
  );
}
